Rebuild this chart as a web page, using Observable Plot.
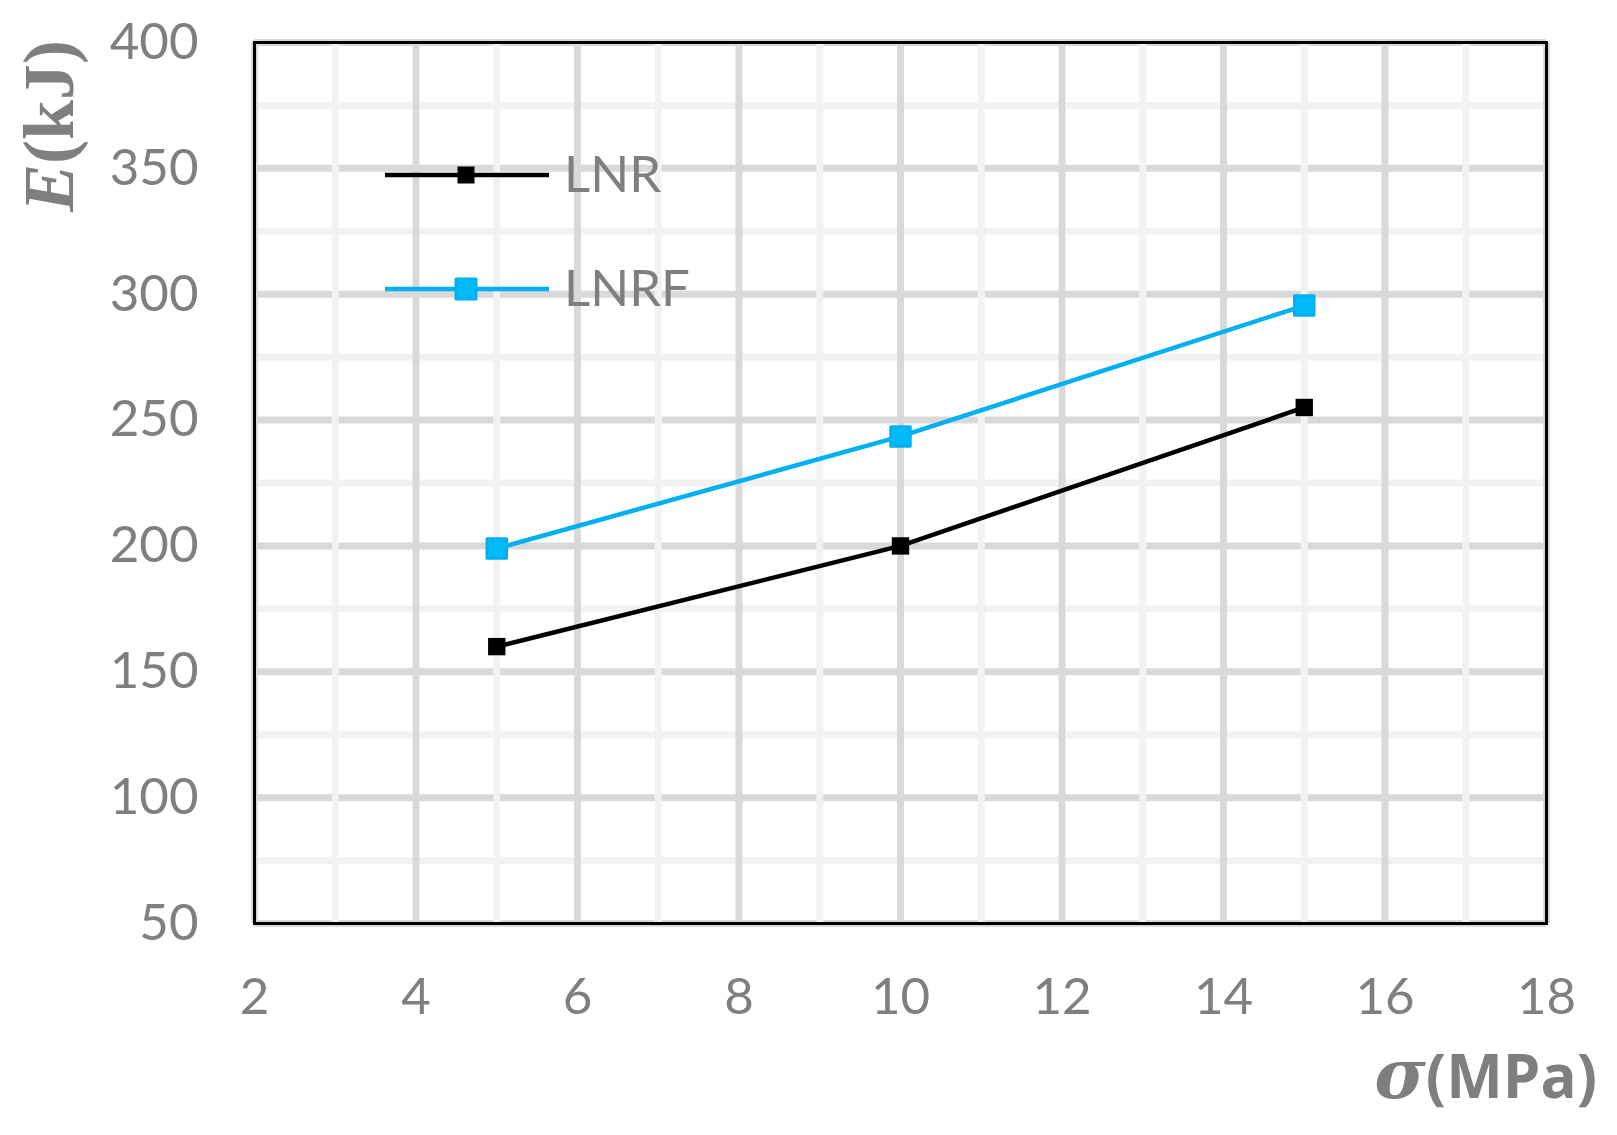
<!DOCTYPE html>
<html>
<head>
<meta charset="utf-8">
<script src="https://cdn.jsdelivr.net/npm/d3@7"></script>
<script src="https://cdn.jsdelivr.net/npm/@observablehq/plot@0.6"></script>
<style>
  html, body { margin: 0; padding: 0; background: #fff; }
  #wrap { position: relative; width: 1617px; height: 1135px; }
  #wrap svg { position: absolute; left: 0; top: 0; }
</style>
</head>
<body>
<div id="wrap"></div>
<script>
// ---- data ----
const sigma = [5, 10, 15];
const lnr = [160, 200, 255];
const lnrf = [199, 243.5, 295.5];
const seriesNames = ["LNR", "LNRF"];
const seriesColors = ["#000000", "#00b0f0"];
const xTicks = [2, 4, 6, 8, 10, 12, 14, 16, 18];
const xMinor = [3, 5, 7, 9, 11, 13, 15, 17];
const yTicks = [50, 100, 150, 200, 250, 300, 350, 400];
const yMinor = [75, 125, 175, 225, 275, 325, 375];

const rows = [];
sigma.forEach((s, i) => {
  rows.push({series: "LNR", x: s, y: lnr[i]});
  rows.push({series: "LNRF", x: s, y: lnrf[i]});
});
const lnrRows = rows.filter(d => d.series === "LNR");
const lnrfRows = rows.filter(d => d.series === "LNRF");

const W = 1617, H = 1135;
const chart = Plot.plot({
  width: W,
  height: H,
  marginLeft: 254,
  marginRight: 71,
  marginTop: 42,
  marginBottom: 212,
  style: {color: "#7f7f7f", background: "transparent", fontFamily: "Lato"},
  x: {domain: [2, 18]},
  y: {domain: [50, 400]},
  marks: [
    Plot.ruleY(yMinor, {stroke: "#f2f2f2", strokeWidth: 7}),
    Plot.ruleY(yTicks, {stroke: "#d9d9d9", strokeWidth: 7}),
    Plot.ruleX(xMinor, {stroke: "#f2f2f2", strokeWidth: 7}),
    Plot.ruleX(xTicks, {stroke: "#d9d9d9", strokeWidth: 7}),
    Plot.axisY({ticks: yTicks, tickSize: 0, tickPadding: 56, fontSize: 51, label: null, fill: "#7f7f7f"}),
    Plot.axisX({ticks: xTicks, tickSize: 0, tickPadding: 54, fontSize: 51, label: null, fill: "#7f7f7f"}),
    Plot.frame({stroke: "#000", strokeWidth: 3}),
    Plot.line(lnrRows, {x: "x", y: "y", stroke: seriesColors[0], strokeWidth: 4.5}),
    Plot.line(lnrfRows, {x: "x", y: "y", stroke: seriesColors[1], strokeWidth: 4.5}),
    Plot.dot(lnrRows, {x: "x", y: "y", symbol: "square", r: 9.8, fill: seriesColors[0], stroke: "none"}),
    Plot.dot(lnrfRows, {x: "x", y: "y", symbol: "square", r: 11, fill: "#00bbf8", stroke: seriesColors[1], strokeWidth: 3, strokeLinejoin: "round"})
  ]
});
document.getElementById("wrap").appendChild(chart);

// ---- overlay: legend and axis titles ----
const ov = d3.select("#wrap").append("svg")
  .attr("width", W).attr("height", H)
  .style("pointer-events", "none");

const leg = ov.append("g");
seriesNames.forEach((name, i) => {
  const cy = 175 + i * 114;
  const g = leg.append("g");
  g.append("line").attr("x1", 385).attr("x2", 549).attr("y1", cy).attr("y2", cy)
    .attr("stroke", seriesColors[i]).attr("stroke-width", 4.5);
  if (i === 0) {
    g.append("rect").attr("x", 466 - 8.5).attr("y", cy - 8.5).attr("width", 17).attr("height", 17)
      .attr("fill", seriesColors[0]);
  } else {
    g.append("rect").attr("x", 466 - 10).attr("y", cy - 10).attr("width", 20).attr("height", 20)
      .attr("fill", "#00bbf8").attr("stroke", seriesColors[1]).attr("stroke-width", 3)
      .attr("stroke-linejoin", "round");
  }
  g.append("text").attr("x", 564).attr("y", cy + 17)
    .attr("font-family", "Lato").attr("font-size", 51).attr("fill", "#7f7f7f")
    .text(name);
});

// y-axis title
const yt = ov.append("text")
  .attr("transform", "translate(73,126) rotate(-90)")
  .attr("text-anchor", "middle")
  .attr("font-family", "Liberation Serif").attr("font-weight", "bold")
  .attr("font-size", 72).attr("fill", "#7f7f7f");
yt.append("tspan").attr("font-style", "italic").text("E");
yt.append("tspan").text("(kJ)");

// x-axis title
const xt = ov.append("text")
  .attr("x", 1597).attr("y", 1098)
  .attr("text-anchor", "end")
  .attr("font-family", "Open Sans").attr("font-weight", "bold")
  .attr("font-size", 60).attr("fill", "#7f7f7f");
xt.append("tspan").attr("font-style", "italic").attr("font-family", "DejaVu Serif").attr("font-size", 70).text("σ");
xt.append("tspan").text("(MPa)");
</script>
</body>
</html>
